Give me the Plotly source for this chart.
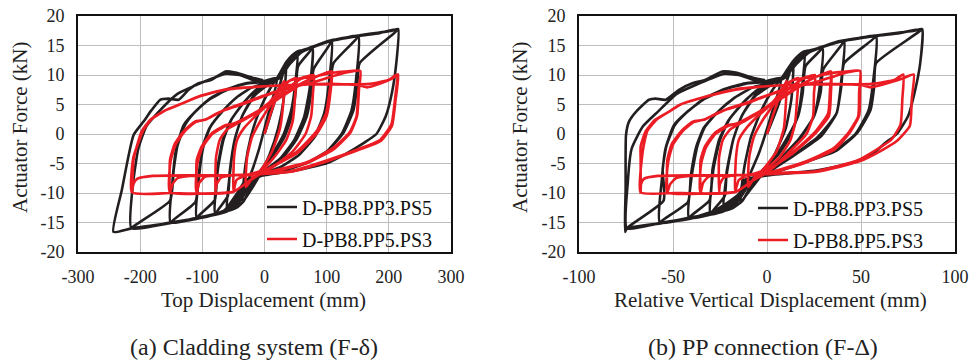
import plotly.graph_objects as go

# ---------------- data ----------------
series_names = ["D-PB8.PP3.PS5", "D-PB8.PP5.PS3"]
x_ticks_a = [-300, -200, -100, 0, 100, 200, 300]
x_ticks_b = [-100, -50, 0, 50, 100]
y_ticks = [-20, -15, -10, -5, 0, 5, 10, 15, 20]

# every row: (top displacement mm, relative vertical displacement mm, actuator force kN)
black_level1 = [
    (0, 0, 0), (12, 5, 4), (25, 10, 8.5), (35, 14, 12), (31, 13, 6), (22, 10, 1), (8, 4, -3.5),
    (-8, -3, -7), (-22, -9, -9.5), (-35, -14, -11.5), (-31, -12, -5.5), (-22, -8.5, -0.5),
    (-8, -3, 4), (8, 3, 7.5), (22, 8.5, 9.8)]
black_level2 = [
    (35, 13.5, 12.2), (45, 17, 13.4), (53, 20, 14), (50, 19, 9), (43, 17, 4), (31, 13, 0),
    (12, 6, -3.5), (-5, -2, -6), (-20, -8, -8.5), (-33, -13, -11.3), (-45, -18, -12.5),
    (-60, -23, -13), (-56, -21.5, -7), (-48, -18, -1), (-36, -13.5, 3), (-16, -6, 6.5),
    (5, 2, 8.3), (24, 9, 9.8)]
black_level3 = [
    (40, 15, 12.5), (53, 20, 14), (66, 25, 14.3), (77, 29.5, 14.6), (73, 28, 8), (64, 25, 3),
    (48, 17, -1), (25, 7, -4.2), (0, 0, -6.2), (-22, -9, -8.3), (-38, -15, -11), (-55, -21, -12.8),
    (-79, -30, -13.6), (-75, -28.5, -6), (-66, -25, -1), (-53, -20, 2.5), (-32, -12, 5.5),
    (-12, -4.5, 7.6), (8, 3, 8.6), (26, 10, 9.6),
    (42, 16, 12.8), (58, 22, 14.1), (77, 29.5, 14.6), (54, 20.5, 11.5), (50, 19, 7), (44, 16.5, 3),
    (32, 11, -0.5), (12, 4, -4), (-8, -3, -6.5), (-25, -10, -8.8), (-38, -15, -11.2),
    (-52, -20, -12.6), (-79, -30, -13.6), (-59, -22.5, -10.5), (-56, -21.5, -6.5), (-48, -18, -1),
    (-36, -13.5, 3), (-16, -6, 6.7), (5, 2, 8.4), (24, 9, 9.7)]
black_level4 = [
    (44, 16.5, 12.8), (60, 23, 14), (80, 30, 14.8), (95, 36, 15.4), (108, 41, 15.8),
    (104, 39.5, 9), (96, 37, 3.5), (80, 27, -0.5), (55, 14, -3.6), (25, 5, -5.6), (0, 0, -6.6),
    (-25, -10, -8.2), (-40, -15, -10.8), (-60, -25, -13), (-82, -31, -13.7), (-109, -41.5, -14.2),
    (-105, -40, -7), (-98, -37, -2), (-87, -33, 1.2), (-68, -26, 3.8), (-45, -17, 6.2),
    (-20, -7.5, 7.9), (2, 1, 8.6), (25, 9.5, 9.6),
    (44, 16.5, 12.6), (62, 23.5, 14.1), (85, 32, 15), (108, 41, 15.8), (79, 30, 11),
    (75, 28.5, 7), (68, 25, 3), (52, 17, -0.8), (28, 7, -4.2), (0, 0, -6.5), (-25, -10, -8.4),
    (-40, -15, -11), (-60, -25, -13.1), (-85, -32, -13.8), (-109, -41.5, -14.2),
    (-80, -30.5, -11.2), (-76, -29, -6), (-67, -25.5, -1), (-54, -20.5, 2.3), (-33, -12.5, 5.4),
    (-12, -4.5, 7.6), (8, 3, 8.6), (26, 10, 9.7)]
black_level5 = [
    (46, 17.5, 12.8), (62, 23.5, 14), (85, 32, 15), (110, 42, 15.9), (130, 50, 16.3),
    (151, 58, 16.6), (147, 56.5, 9), (140, 54, 4), (124, 47, 0), (100, 35, -3), (70, 20, -4.8),
    (35, 9, -6), (0, 0, -6.9), (-30, -12, -8.3), (-45, -16, -11), (-65, -27, -13.2),
    (-110, -41.5, -14.3), (-151, -57, -15), (-148, -56, -8), (-142, -54, -2.5), (-130, -49.5, 1.5),
    (-113, -43, 3.6), (-88, -33.5, 5.9), (-60, -23, 7.5), (-30, -11.5, 8.5), (-2, -1, 8.8),
    (22, 8.5, 9.4),
    (42, 16, 12), (62, 23.5, 14.1), (90, 34, 15.2), (120, 46, 16.1), (151, 58, 16.6),
    (111, 41, 12), (105, 39.5, 8), (98, 37, 3.5), (82, 29, -0.3), (56, 15, -3.5), (26, 5, -5.6),
    (0, 0, -6.7), (-30, -12, -8.4), (-46, -16, -11.2), (-66, -27, -13.3), (-109, -41.5, -14.2),
    (-151, -57, -15), (-111, -42, -11.5), (-106, -40.5, -7), (-99, -37.5, -2), (-88, -33.5, 1.1),
    (-68, -26, 3.8), (-45, -17, 6.2), (-20, -7.5, 7.9), (2, 1, 8.6), (24, 9, 9.6)]
black_level6 = [
    (46, 17.5, 12.8), (62, 23.5, 14), (100, 38, 15.7), (152, 58, 16.7), (185, 70.5, 17.2),
    (205, 78.5, 17.5), (215, 82.5, 17.8), (212, 81.5, 12), (205, 78.5, 7), (195, 75, 3),
    (180, 69, 0), (160, 63, -1.5), (130, 56, -3.4), (101, 45, -4.9), (50, 26, -6.2), (5, 3, -6.9),
    (-30, -12, -7.8), (-45, -15, -10.2), (-65, -28, -13), (-110, -41.5, -14.3), (-152, -56, -15),
    (-214, -74.5, -16), (-211, -74, -8), (-203, -72, -2.5), (-190, -66, 1.3), (-170, -58, 3.8),
    (-140, -48, 6.8), (-110, -38, 8.3), (-82, -29, 9.5), (-62, -22.5, 10.2), (-40, -15, 10),
    (-20, -7.5, 9.2), (0, 0, 8.8), (20, 7.5, 9.4),
    (40, 15, 12), (62, 23.5, 14.1), (100, 38, 15.6), (152, 58, 16.6), (185, 70.5, 17.1),
    (215, 82.5, 17.8), (153, 58, 12), (149, 57, 8), (143, 55, 4), (127, 48, 0.2), (102, 37, -2.8),
    (72, 21, -4.7), (36, 9, -6), (0, 0, -6.8), (-30, -12, -8.2), (-45, -15, -10.8),
    (-66, -28, -13.2), (-110, -41.5, -14.3), (-151, -56, -15.1), (-214, -74.5, -16),
    (-152, -55, -11.3), (-146, -55.5, -6), (-140, -53.5, -2), (-128, -49, 1.5), (-112, -42.5, 3.7),
    (-88, -33.5, 6), (-60, -23, 7.6), (-30, -11.5, 8.6), (-2, -1, 8.9), (20, 7.5, 9.5)]
black_final = [
    (5, 2, 3), (-10, -4, -3), (-25, -10, -7.5), (-40, -14, -10.5), (-62, -26, -13),
    (-110, -41.5, -14.4), (-152, -56, -15.1), (-214, -74.5, -16), (-243, -75.5, -16.6),
    (-229.5, -75.2, -9.5), (-210.7, -75, -0.2), (-194.6, -73.4, 2.1), (-182, -69, 4),
    (-167.8, -62.8, 5.8), (-154.4, -59.2, 6.0), (-138, -53.9, 5.8), (-122, -46.8, 7.5),
    (-106, -39.7, 8.6), (-85, -32.6, 9.2), (-63, -23.8, 10.6), (-47, -16.7, 10.4),
    (-18, -7, 9.5), (-2, -1, 9.1)]

red_level1 = [
    (0, 0, 0), (10, 3.5, 3.5), (22, 7.5, 7), (32, 10.5, 9), (30, 10, 5), (25, 9, 1), (12, 5, -3),
    (-5, -2, -6), (-20, -7, -7.5), (-30, -10, -9), (-28, -9.5, -4), (-20, -7, -0.5),
    (-5, -2, 2.5), (10, 3.5, 5), (25, 8.5, 8)]
red_level2 = [
    (40, 13, 9), (50, 16.5, 9.5), (49, 16, 6), (45, 15, 2), (35, 12.5, -1), (15, 6.5, -4),
    (-5, -2, -6.2), (-30, -10, -7), (-45, -15, -7.8), (-50, -17, -9.8), (-49, -16.5, -4),
    (-44, -15, -1), (-33, -11, 1), (-15, -5, 3), (5, 2, 5), (25, 8.5, 7.5), (40, 13, 9)]
red_level3 = [
    (60, 19.5, 9.5), (79, 25.5, 10), (78, 25, 7), (75, 24.5, 3), (66, 21, 0), (45, 12, -3),
    (15, 4, -5.5), (-6, -2, -6.8), (-50, -16.5, -7), (-70, -23, -7.4), (-77, -25, -8.5),
    (-79, -25.5, -9.8), (-78, -25.5, -4), (-72, -23.5, -1), (-60, -19.5, 0.8), (-40, -13, 2),
    (-15, -5, 3.5), (10, 3.5, 5.5), (40, 13, 8), (60, 19.5, 9.4)]
red_level4 = [
    (85, 27, 9.8), (108, 34, 10.6), (106, 34, 7), (100, 33, 3.1), (85, 26, 0.2), (53, 14, -3.2),
    (15, 4, -5.4), (-6, -2, -6.8), (-60, -19.5, -7), (-95, -31, -7.2), (-105, -34, -8.3),
    (-109, -35.3, -9.9), (-109, -35.3, -4.4), (-101, -33, -2.1), (-85, -28, 0.1),
    (-63, -21, 1.5), (-47, -15.5, 1.8), (-25, -8, 3), (1, 0, 4.5), (30, 10, 6.5),
    (60, 19.5, 8.5), (85, 27, 9.8), (108, 34, 10.6),
    (105, 33.5, 7.5), (99, 32.5, 3.5), (84, 26, 0.5), (52, 14, -3), (18, 5, -5.2), (-6, -2, -6.6),
    (-25, -8, -8), (-50, -16.5, -9.8), (-80, -26, -10.1), (-109, -35.3, -9.9), (-108, -35, -5),
    (-100, -32.5, -2.3), (-84, -27.5, 0), (-62, -20.5, 1.4), (-46, -15, 1.9), (-24, -8, 3.1),
    (2, 0.5, 4.7), (30, 10, 6.7), (60, 19.5, 8.6), (88, 28, 9.9)]
red_level5 = [
    (110, 36, 10.4), (130, 42, 10.6), (154, 49.5, 10.7), (152, 49.5, 7.6), (149, 49, 3.1),
    (138, 44, 0.2), (111, 36, -2.6), (69, 20, -4.9), (15, 5, -6.3), (-6, -2, -6.8),
    (-50, -16.5, -7), (-120, -41, -7.1), (-140, -48.5, -7.5), (-148, -51.5, -8.5),
    (-152, -53, -9.9), (-152, -53, -4.4), (-144, -50.5, -1.6), (-128, -45, 0.7),
    (-112, -39.5, 2.1), (-95, -33.5, 2.4), (-80, -28, 3.3), (-63, -22, 4.1), (-31, -10.5, 5.2),
    (1, 0, 6.5), (40, 13, 7.8), (80, 26, 8.8), (110, 36, 9.8), (130, 42, 10.4),
    (154, 49.5, 10.7),
    (151, 49, 7.2), (148, 48.5, 3), (137, 43.5, 0.3), (110, 35.5, -2.4), (68, 19.5, -4.8),
    (16, 5, -6.2), (-6, -2, -6.8), (-25, -8, -8), (-50, -16.5, -9.8), (-100, -34, -10.1),
    (-152, -53, -9.9), (-151, -52.5, -4.6), (-143, -50, -1.8), (-127, -44.5, 0.6),
    (-111, -39, 2), (-94, -33, 2.5), (-62, -21.5, 4.2), (-30, -10, 5.4), (2, 0.5, 6.6),
    (50, 16, 8.2)]
red_level6 = [
    (100, 33, 8.5), (150, 50, 8.3), (165, 55, 7.9), (185, 63, 8.5), (205, 72, 9.4),
    (215, 78, 10.1), (211, 77, 5.9), (205, 76, 1.4), (187, 69, -1.2), (154, 62, -2.6),
    (101, 49.5, -4.6), (42, 26.5, -6.4), (-6, -1, -6.8), (-60, -19.5, -7), (-120, -39, -7),
    (-180, -58, -7.1), (-205, -65.5, -7.6), (-211, -67, -8.5), (-213, -67.2, -9.9),
    (-212, -67.2, -7), (-210.7, -67.2, -4.4), (-205.4, -67.2, -2.1), (-197.4, -64.5, 0.5),
    (-183.9, -59.5, 2.4), (-159.8, -51, 4.0), (-138.3, -46.8, 4.9), (-106, -32.6, 6.3),
    (-63.3, -16.7, 7.5), (1, -0.7, 8.1), (60, 18, 8.4), (120, 39, 8.4), (170, 56, 8.5),
    (200, 68, 9.2), (213, 72.5, 10.1),
    (210, 72, 6), (204, 71, 1.6), (186, 66, -1), (153, 59, -2.5), (100, 48, -4.5),
    (42, 26, -6.3), (-6, -1, -6.8), (-25, -8, -8), (-50, -16.5, -9.8), (-100, -33, -10.1),
    (-150, -49, -10), (-213, -67.2, -9.9), (-211, -66.5, -4), (-204, -65.5, -1.8),
    (-195, -63.5, 0.6), (-182, -58.5, 2.5), (-158, -50.5, 4.1), (-137, -46, 5.0),
    (-105, -32, 6.4), (-62, -16.5, 7.6), (0, -0.5, 8.1)]


def columns(levels):
    rows = [r for lev in levels for r in lev]
    return [r[0] for r in rows], [r[1] for r in rows], [r[2] for r in rows]


black_top, black_rel, black_force = columns(
    [black_level1, black_level2, black_level3, black_level4, black_level5, black_level6, black_final])
red_top, red_rel, red_force = columns(
    [red_level1, red_level2, red_level3, red_level4, red_level5, red_level6])

# ---------------- figure ----------------
W, H = 971, 362
FONT = "Liberation Serif"
BLACK = "#231f20"
RED = "#ec1c24"
GRID = "#bdbdbd"


def px(x):
    return x / W


def py(y):
    return (H - y) / H


line_shape = dict(shape="spline", smoothing=0.5)
fig = go.Figure()
fig.add_trace(go.Scatter(x=black_top, y=black_force, mode="lines", name=series_names[0],
                         line=dict(color=BLACK, width=2.6, **line_shape), xaxis="x", yaxis="y",
                         legend="legend"))
fig.add_trace(go.Scatter(x=red_top, y=red_force, mode="lines", name=series_names[1],
                         line=dict(color=RED, width=2.6, **line_shape), xaxis="x", yaxis="y",
                         legend="legend2"))
fig.add_trace(go.Scatter(x=black_rel, y=black_force, mode="lines", name=series_names[0],
                         line=dict(color=BLACK, width=2.6, **line_shape), xaxis="x2", yaxis="y2",
                         legend="legend3"))
fig.add_trace(go.Scatter(x=red_rel, y=red_force, mode="lines", name=series_names[1],
                         line=dict(color=RED, width=2.6, **line_shape), xaxis="x2", yaxis="y2",
                         legend="legend4"))

axis_common = dict(showgrid=True, gridcolor=GRID, gridwidth=1.2, zeroline=False,
                   showline=True, linecolor="#111111", linewidth=1.6, mirror=True,
                   ticks="", tickfont=dict(family=FONT, size=18, color="#222222"),
                   ticklabelstandoff=8, fixedrange=True, automargin=False)

ydom = [py(252), py(16)]
legend_common = dict(bgcolor="rgba(0,0,0,0)", borderwidth=0, xanchor="left", yanchor="middle",
                     font=dict(family=FONT, size=20, color="#111111"), itemwidth=30,
                     tracegroupgap=0)

fig.update_layout(
    width=W, height=H, margin=dict(l=0, r=0, t=0, b=0, autoexpand=False),
    font=dict(family=FONT),
    paper_bgcolor="white", plot_bgcolor="white", showlegend=True,
    xaxis=dict(axis_common, domain=[px(78), px(451)], range=[-300, 300], tickvals=x_ticks_a,
               ticktext=[str(v) for v in x_ticks_a], anchor="y"),
    yaxis=dict(axis_common, domain=ydom, range=[-20, 20], tickvals=y_ticks,
               ticktext=[str(v) for v in y_ticks], anchor="x"),
    xaxis2=dict(axis_common, domain=[px(579), px(955)], range=[-100, 100], tickvals=x_ticks_b,
                ticktext=[str(v) for v in x_ticks_b], anchor="y2"),
    yaxis2=dict(axis_common, domain=ydom, range=[-20, 20], tickvals=y_ticks,
                ticktext=[str(v) for v in y_ticks], anchor="x2"),
    legend=dict(legend_common, x=px(262), y=py(207)),
    legend2=dict(legend_common, x=px(262), y=py(239)),
    legend3=dict(legend_common, x=px(753), y=py(208)),
    legend4=dict(legend_common, x=px(753), y=py(240)),
)

ann_font = dict(family=FONT, size=21, color="#222222")
annotations = [
    dict(text="Actuator Force (kN)", x=px(20), y=py(128), textangle=-90, font=ann_font),
    dict(text="Actuator Force (kN)", x=px(520), y=py(128), textangle=-90, font=ann_font),
    dict(text="Top Displacement (mm)", x=px(263), y=py(300), font=ann_font),
    dict(text="Relative Vertical Displacement (mm)", x=px(770), y=py(300), font=ann_font),
    dict(text="(a) Cladding system (F-δ)", x=px(254), y=py(347),
         font=dict(family=FONT, size=24, color="#222222")),
    dict(text="(b) PP connection (F-Δ)", x=px(763), y=py(347),
         font=dict(family=FONT, size=24, color="#222222")),
]
for a in annotations:
    a.update(xref="paper", yref="paper", showarrow=False, xanchor="center", yanchor="middle")
fig.update_layout(annotations=annotations)

fig.write_html("out.html", config={"displayModeBar": False},
               post_script="document.body.style.margin='0';document.body.style.padding='0';")
